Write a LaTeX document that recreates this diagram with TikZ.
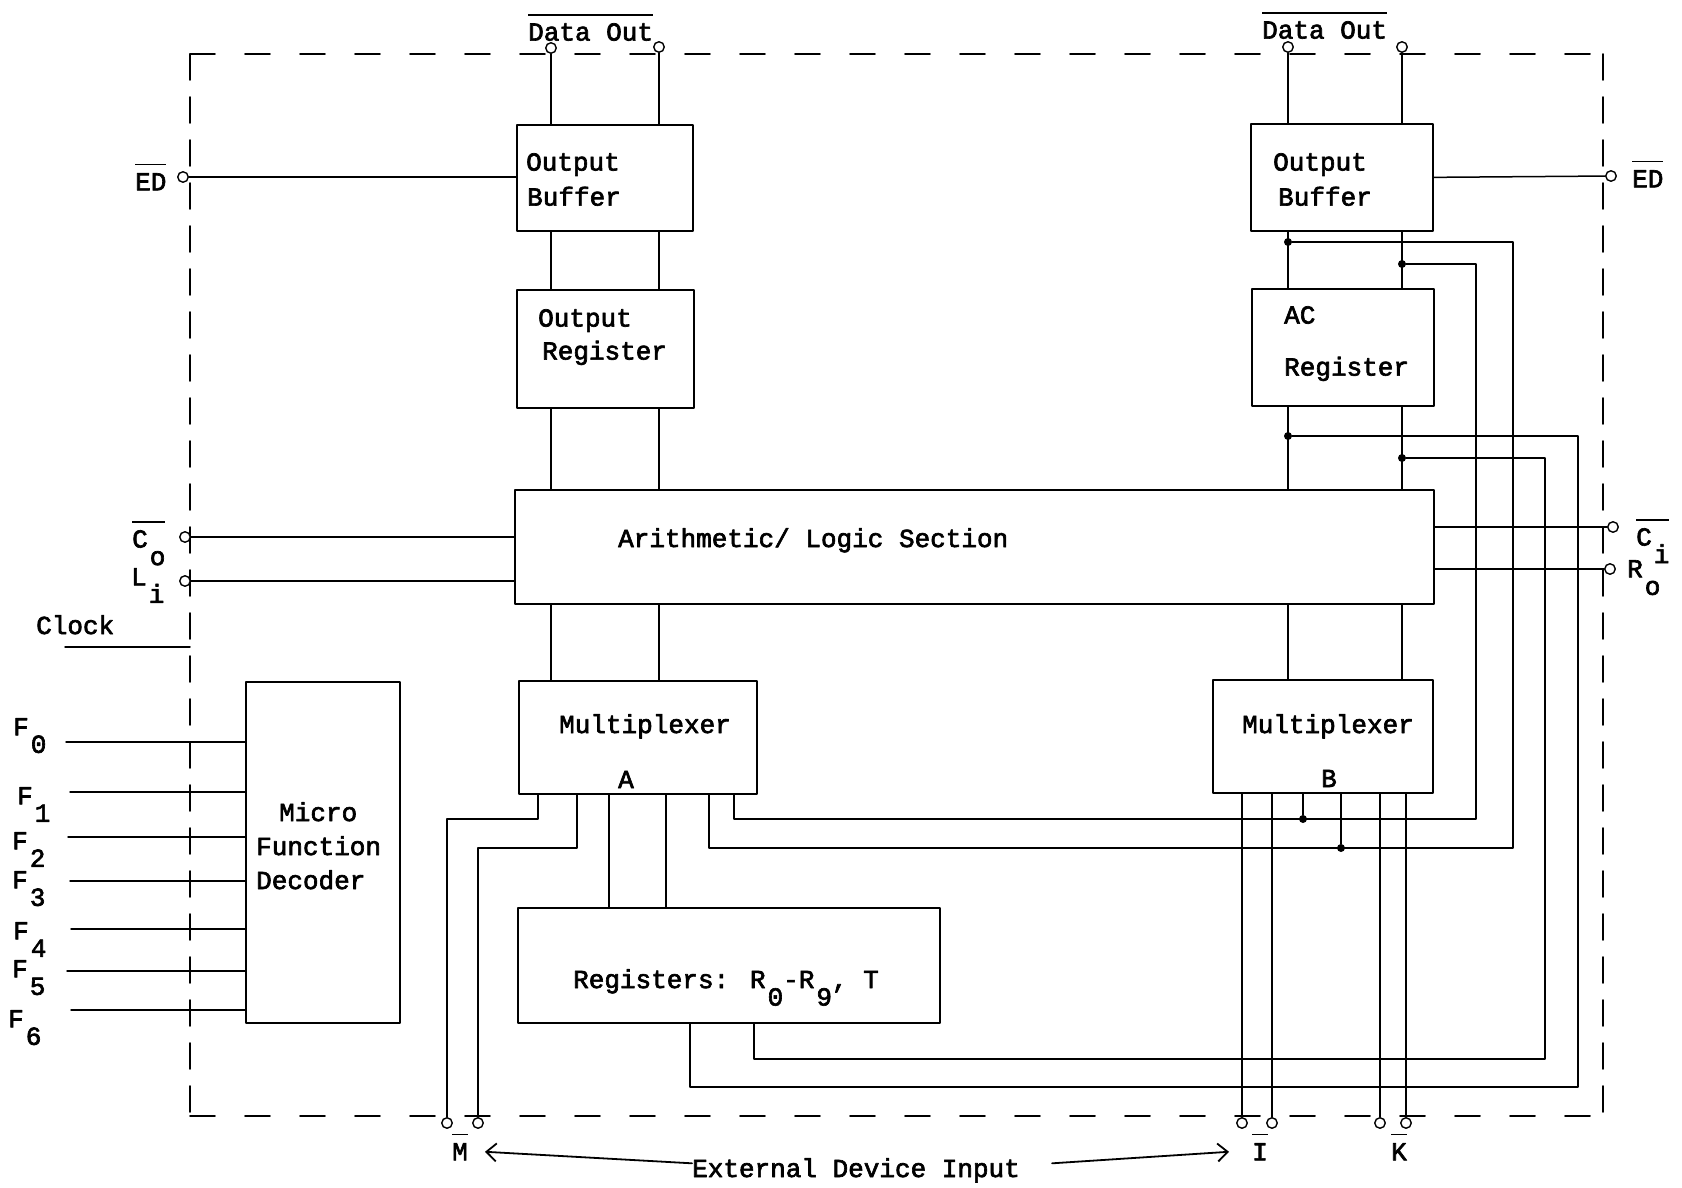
\documentclass[tikz,border=0pt]{standalone}
\usepackage{fontspec}
\newfontfamily\typer[FakeBold=2.5]{Liberation Mono}
\usetikzlibrary{arrows.meta}
\newcommand\lowsub[1]{\kern2pt\raisebox{-17.5pt}{#1}}
\newcommand\ovl[1]{\setbox0=\hbox{#1}\rlap{\raisebox{25pt}[0pt][0pt]{\rule{\wd0}{1.8pt}}}\box0}
\begin{document}
\begin{tikzpicture}[x=1pt,y=-1pt,line cap=round,line join=round]
\path[fill=white] (0,0) rectangle (1682,1188);
\tikzset{blk/.style={draw,line width=1.7pt,inner sep=0pt,anchor=north west},txt/.style={font=\typer\fontsize{26}{35}\selectfont,inner sep=0pt,anchor=north west,align=left},wire/.style={draw,line width=1.5pt},framev/.style={draw,line width=1.9pt,dash pattern=on 26pt off 17pt},frameh/.style={draw,line width=1.9pt,dash pattern=on 25pt off 30pt},term/.style={circle,draw,fill=white,line width=1.4pt,minimum size=10.5pt,inner sep=0pt},dot/.style={circle,fill,minimum size=8pt,inner sep=0pt},ptr/.style={draw,line width=1.8pt,-{Straight Barb[length=10pt,width=18pt,line width=1.8pt]}}}
\draw[frameh] (190,54) -- (1603,54); \draw[frameh] (190,1116) -- (1603,1116);
\draw[framev] (190,54) -- (190,1116); \draw[framev] (1603,54) -- (1603,1116);
% boxes
\node[blk,minimum width=176pt,minimum height=106pt] (obufL) at (516,124) {};
\node[blk,minimum width=177pt,minimum height=118pt] (oregL) at (516,289) {};
\node[blk,minimum width=182pt,minimum height=107pt] (obufR) at (1250,123) {};
\node[blk,minimum width=182pt,minimum height=117pt] (acR) at (1251,288) {};
\node[blk,minimum width=919pt,minimum height=114pt] (alu) at (514,489) {};
\node[blk,minimum width=238pt,minimum height=113pt] (muxA) at (518,680) {};
\node[blk,minimum width=220pt,minimum height=113pt] (muxB) at (1212,679) {};
\node[blk,minimum width=154pt,minimum height=341pt] (dec) at (245,681) {};
\node[blk,minimum width=422pt,minimum height=115pt] (regs) at (517,907) {};
\node[txt] (obufLt) at (526,153) {Output\\\hspace*{1pt}Buffer};
\node[txt] (oregLt) at (538,309) {Output\\[-2pt]\hspace*{4pt}Register};
\node[txt] (obufRt) at (1273,153) {Output\\\hspace*{5pt}Buffer};
\node[txt] (acRt) at (1284,306) {AC\\[17pt]Register};
\node[txt] (aluT) at (618,528) {Arithmetic/ Logic Section};
\node[txt] (muxAt) at (559,714) {Multiplexer\\[20pt]\hspace*{59pt}A};
\node[txt] (muxBt) at (1242,714) {Multiplexer\\[19pt]\hspace*{79pt}B};
\node[txt] (dect) at (256,802) {\hspace*{23pt}Micro\\[-1pt]Function\\[-1pt]Decoder};
\node[txt] (regsT) at (573,969) {Registers: R\lowsub{0}-R\lowsub{9}, T};
% outside labels
\node[txt] (dolL) at (528,23) {\ovl{Data Out}}; \node[txt] (dolR) at (1262,21) {\ovl{Data Out}};
\node[txt] (lblEDL) at (135,173) {\ovl{ED}}; \node[txt] (lblEDR) at (1632,170) {\ovl{ED}};
\node[txt] (lblCo) at (132,530) {\ovl{C\lowsub{o}}}; \node[txt] (lblLi) at (131,568) {L\lowsub{i}};
\node[txt] (lblCi) at (1636,528) {\ovl{C\lowsub{i}}}; \node[txt] (lblRo) at (1627,560) {R\lowsub{o}};
\node[txt] (lblClk) at (36,615) {Clock};
\node[txt] (lblM) at (452,1143) {\ovl{M}}; \node[txt] (lblI) at (1252,1143) {\ovl{I}}; \node[txt] (lblK) at (1391,1143) {\ovl{K}};
\node[txt] (edi) at (692,1158) {External Device Input};
% terminals and junctions
\node[term] (tDL1) at (551,48) {}; \node[term] (tDL2) at (659,47) {}; \node[term] (tDR1) at (1288,47) {}; \node[term] (tDR2) at (1402,47) {};
\node[term] (tEDL) at (183,177) {}; \node[term] (tEDR) at (1611,176) {};
\node[term] (tCo) at (185,537) {}; \node[term] (tLi) at (185,581) {}; \node[term] (tCi) at (1613,527) {}; \node[term] (tRo) at (1610,569) {};
\node[term] (tM1) at (447,1123) {}; \node[term] (tM2) at (478,1123) {}; \node[term] (tI1) at (1242,1123) {}; \node[term] (tI2) at (1272,1123) {}; \node[term] (tK1) at (1380,1123) {}; \node[term] (tK2) at (1406,1123) {};
\node[dot] (jb1) at (1288,242) {}; \node[dot] (jb2) at (1402,264) {}; \node[dot] (ja1) at (1288,436) {}; \node[dot] (ja2) at (1402,458) {};
\node[dot] (jm1) at (1303,819) {}; \node[dot] (jm2) at (1341,848) {};
\coordinate (cR1) at (1476,819); \coordinate (cR2) at (1513,848); \coordinate (cR3) at (1545,1059); \coordinate (cR4) at (1578,1087);
\coordinate (cA5) at (709,848); \coordinate (cA6) at (734,819); \coordinate (cG1) at (690,1087); \coordinate (cG2) at (754,1059);
\coordinate (cM1) at (538,819); \coordinate (cM2) at (577,848); \coordinate (clkA) at (65,647); \coordinate (clkB) at (190,647);
% left column
\foreach \t in {tDL1,tDL2} {\draw[wire] (\t) -- (\t |- obufL.north); \draw[wire] (obufL.south -| \t) -- (oregL.north -| \t); \draw[wire] (oregL.south -| \t) -- (alu.north -| \t); \draw[wire] (alu.south -| \t) -- (muxA.north -| \t);}
% right column
\foreach \t in {tDR1,tDR2} {\draw[wire] (\t) -- (\t |- obufR.north); \draw[wire] (obufR.south -| \t) -- (acR.north -| \t); \draw[wire] (acR.south -| \t) -- (alu.north -| \t); \draw[wire] (alu.south -| \t) -- (muxB.north -| \t);}
\draw[wire] (tEDL) -- (tEDL -| obufL.west); \draw[wire] (obufR.east) -- (tEDR);
\draw[wire] (tCo) -- (tCo -| alu.west); \draw[wire] (tLi) -- (tLi -| alu.west); \draw[wire] (alu.east |- tCi) -- (tCi); \draw[wire] (alu.east |- tRo) -- (tRo);
\draw[wire] (clkA) -- (clkB);
\draw[wire] (jb1) -| (cR2) -- (cA5) -- (cA5 |- muxA.south); \draw[wire] (jb2) -| (cR1) -- (cA6) -- (cA6 |- muxA.south);
\draw[wire] (ja1) -| (cR4) -- (cG1) -- (cG1 |- regs.south); \draw[wire] (ja2) -| (cR3) -- (cG2) -- (cG2 |- regs.south);
\draw[wire] (tM1) |- (cM1) -- (cM1 |- muxA.south); \draw[wire] (tM2) |- (cM2) -- (cM2 |- muxA.south);
\draw[wire] ([xshift=91pt]muxA.south west) coordinate (w1) -- (w1 |- regs.north); \draw[wire] ([xshift=148pt]muxA.south west) coordinate (w2) -- (w2 |- regs.north);
\draw[wire] (jm1) -- (jm1 |- muxB.south); \draw[wire] (jm2) -- (jm2 |- muxB.south);
\foreach \t in {tI1,tI2,tK1,tK2} {\draw[wire] (\t) -- (\t |- muxB.south);}
% decoder inputs
\foreach \ly/\lx/\fx/\fy/\sb in {742/66/13/718/0,792/70/17/787/1,837/68/12/832/2,881/70/12/871/3,929/71/13/922/4,971/67/12/960/5,1010/71/8/1010/6} {\coordinate (fin\sb) at (\lx,\ly); \draw[wire] (fin\sb) -- (fin\sb -| dec.west); \node[txt] (lblF\sb) at (\fx,\fy) {F\lowsub{\sb}};}
\draw[ptr] ([yshift=7pt]edi.west) -- ([xshift=17pt]lblM.east);
\draw[ptr] ([xshift=32pt,yshift=7pt]edi.east) -- ([xshift=-23pt]lblI.west);
\end{tikzpicture}
\end{document}
